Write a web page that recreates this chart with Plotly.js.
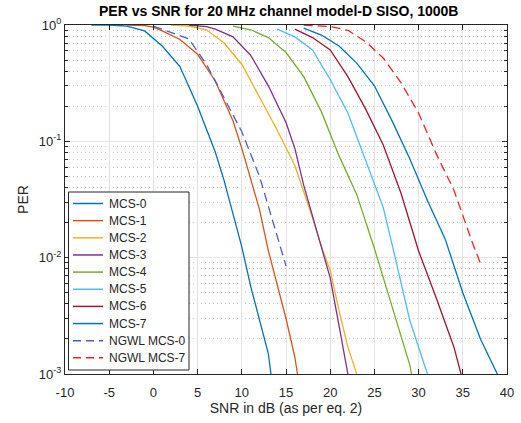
<!DOCTYPE html>
<html>
<head>
<meta charset="utf-8">
<script src="https://cdn.plot.ly/plotly-3.0.1.min.js"></script>
<style>html,body{margin:0;padding:0;background:#fff;}#chart{width:521px;height:423px;}</style>
</head>
<body>
<div id="chart"></div>
<script>
// ---- data ----
const seriesNames = ['MCS-0','MCS-1','MCS-2','MCS-3','MCS-4','MCS-5','MCS-6','MCS-7','NGWL MCS-0','NGWL MCS-7'];

const mcs0Snr = [-7,-5,-3,-1,1,3,5,7,8,9,10,11,12,13,13.3];
const mcs0Per = [1,1,0.98,0.89,0.66,0.44,0.2,0.081,0.046,0.024,0.0124,0.0057,0.0029,0.0015,0.001];

const mcs1Snr = [-3,-1,0,1,3,5,7,9,10,11,12,13,14,15,16,16.3];
const mcs1Per = [1,0.99,0.96,0.89,0.75,0.56,0.33,0.15,0.087,0.048,0.026,0.0115,0.0058,0.003,0.0014,0.001];

const mcs2Snr = [2,4,6,8,10,12,14,16,17,18,19,20,21,22,23];
const mcs2Per = [1,0.98,0.91,0.70,0.46,0.24,0.125,0.062,0.037,0.022,0.0125,0.0078,0.0035,0.0017,0.001];

const mcs3Snr = [4,6,7,9,11,13,15,16,17,18,19,20,21,22];
const mcs3Per = [1,0.97,0.92,0.79,0.55,0.3,0.145,0.087,0.042,0.023,0.0125,0.0067,0.0026,0.001];

const mcs4Snr = [9,11,13,15,17,19,21,23,25,27,28,29,29.2];
const mcs4Per = [0.98,0.91,0.78,0.58,0.36,0.18,0.075,0.035,0.012,0.0037,0.0021,0.0012,0.001];

const mcs5Snr = [14,16,18,20,22,24,26,27,28,29,30,31];
const mcs5Per = [0.92,0.79,0.61,0.34,0.175,0.069,0.027,0.013,0.0062,0.0029,0.0017,0.001];

const mcs6Snr = [16,18,20,22,24,26,28,30,32,34,34.8];
const mcs6Per = [0.92,0.78,0.61,0.36,0.19,0.093,0.036,0.0114,0.0045,0.0017,0.001];

const mcs7Snr = [17,19,21,23,25,27,29,31,33,35,37,38.9];
const mcs7Per = [0.94,0.82,0.66,0.47,0.3,0.15,0.071,0.031,0.0145,0.005,0.002,0.001];

const ngwl0Snr = [0,2,4,6,8,10,12,13,14,15];
const ngwl0Per = [0.98,0.86,0.76,0.46,0.237,0.121,0.05,0.028,0.0154,0.0085];

const ngwl7Snr = [17,20,22,24,26,28,30,32,34,36,37];
const ngwl7Per = [1,0.97,0.9,0.72,0.52,0.32,0.175,0.078,0.038,0.014,0.0089];

const xTickVals = [-10,-5,0,5,10,15,20,25,30,35,40];
const xTickText = ['-10','-5','0','5','10','15','20','25','30','35','40'];
const yTickVals = [0.001,0.01,0.1,1];
const yTickText = ['10<sup>-3</sup>','10<sup>-2</sup>','10<sup>-1</sup>','10<sup>0</sup>'];

// ---- styling ----
const colors = ['#0072BD','#D95319','#EDB120','#7E2F8E','#77AC30','#4DBEEE','#A2142F','#0072BD','#4C5FC0','#FF1F1F'];
const dashes = ['solid','solid','solid','solid','solid','solid','solid','solid','9px,5px','9px,5px'];
const xs = [mcs0Snr,mcs1Snr,mcs2Snr,mcs3Snr,mcs4Snr,mcs5Snr,mcs6Snr,mcs7Snr,ngwl0Snr,ngwl7Snr];
const ys = [mcs0Per,mcs1Per,mcs2Per,mcs3Per,mcs4Per,mcs5Per,mcs6Per,mcs7Per,ngwl0Per,ngwl7Per];

const traces = seriesNames.map((n,i)=>({
  x: xs[i], y: ys[i], name: n, type:'scatter', mode:'lines',
  line:{color:colors[i], width:1.3, dash:dashes[i]}
}));

// minor log tick positions (2..9 per decade)
const minorVals = [];
[0.001,0.01,0.1].forEach(d=>{for(let k=2;k<=9;k++) minorVals.push(d*k);});

const font = {family:'"Liberation Sans", Arial, Helvetica, sans-serif', color:'#262626'};

// plot area in pixels (for a MATLAB-style legend box placed in paper coords)
const W = 521, H = 423, ML = 65, MR = 14, MT = 25, MB = 49;
const PW = W-ML-MR, PH = H-MT-MB;
const px = v => (v-ML)/PW;
const py = v => (H-MB-v)/PH;

const shapes = [];
const annotations = [];
shapes.push({type:'rect', xref:'paper', yref:'paper', x0:px(68.5), x1:px(189), y0:py(370), y1:py(192),
  line:{color:'#262626', width:1}, fillcolor:'#ffffff', layer:'above'});
seriesNames.forEach((n,i)=>{
  const yy = 203.5 + i*17.15;
  shapes.push({type:'line', xref:'paper', yref:'paper', x0:px(73), x1:px(103), y0:py(yy), y1:py(yy),
    line:{color:colors[i], width:1.5, dash:dashes[i]==='solid'?'solid':'8px,5px'}, layer:'above'});
  annotations.push({xref:'paper', yref:'paper', x:px(107), y:py(yy), xanchor:'left', yanchor:'middle',
    text:n, showarrow:false, font:Object.assign({size:12}, font)});
});

const layout = {
  width:W, height:H,
  margin:{l:ML, r:MR, t:MT, b:MB},
  paper_bgcolor:'#fff', plot_bgcolor:'#fff',
  font: Object.assign({size:12}, font),
  title:{text:'<b>PER vs SNR for 20 MHz channel model-D SISO, 1000B</b>', font:Object.assign({size:14}, font, {color:'#000'}), x:0.535, xanchor:'center', y:0.985, yanchor:'top'},
  xaxis:{
    range:[-10,40], tickmode:'array', tickvals:xTickVals, ticktext:xTickText,
    ticks:'inside', ticklen:5, tickcolor:'#262626', tickwidth:1,
    showline:true, linecolor:'#262626', linewidth:1, mirror:'allticks',
    showgrid:true, gridcolor:'#E3E3E3', gridwidth:1, zeroline:false,
    tickfont:Object.assign({size:13}, font), ticklabelstandoff:6,
    title:{text:'SNR in dB (as per eq. 2)', font:Object.assign({size:14}, font), standoff:4}
  },
  yaxis:{
    type:'log', range:[-3,0], tickmode:'array', tickvals:yTickVals, ticktext:yTickText,
    ticks:'inside', ticklen:5, tickcolor:'#262626', tickwidth:1,
    showline:true, linecolor:'#262626', linewidth:1, mirror:'allticks',
    showgrid:true, gridcolor:'#E3E3E3', gridwidth:1, zeroline:false,
    tickfont:Object.assign({size:13}, font),
    minor:{tickmode:'array', tickvals:minorVals, ticks:'inside', ticklen:3, tickcolor:'#262626',
           showgrid:true, gridcolor:'#C8C8C8', griddash:'1px,3px', gridwidth:1},
    title:{text:'PER', font:Object.assign({size:14}, font), standoff:6}
  },
  showlegend:false,
  shapes: shapes,
  annotations: annotations
};

Plotly.newPlot('chart', traces, layout, {displayModeBar:false, staticPlot:true});
</script>
</body>
</html>
